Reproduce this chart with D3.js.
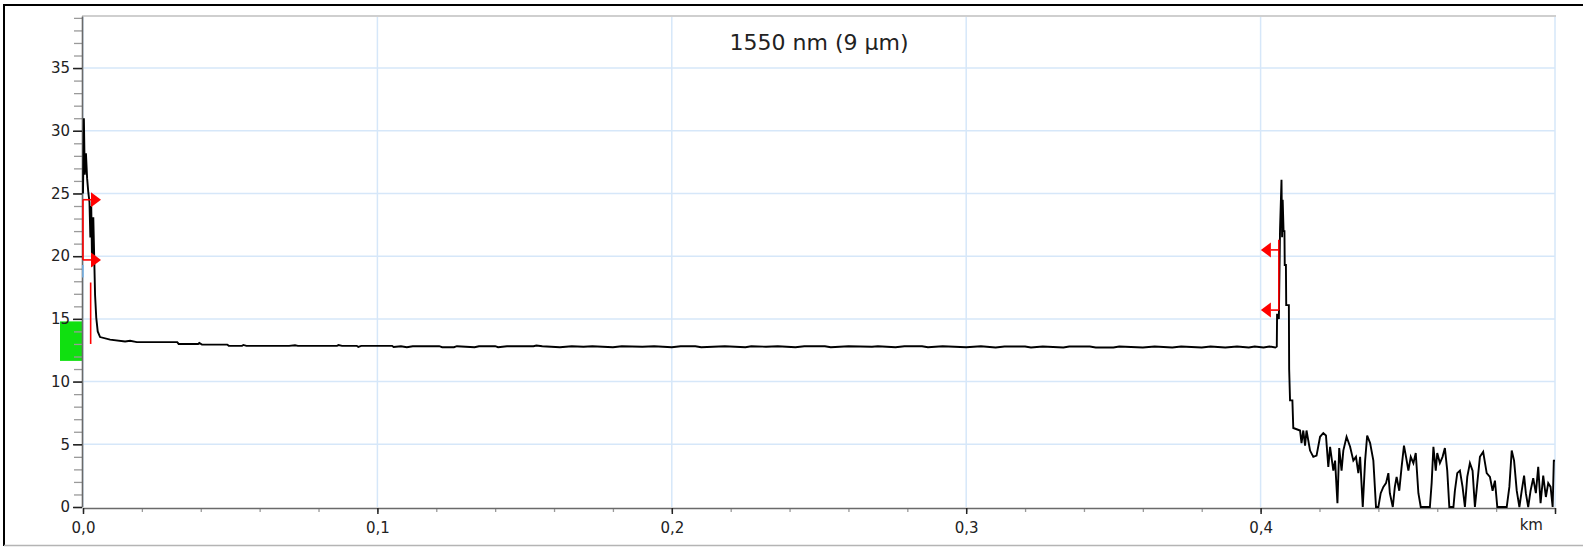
<!DOCTYPE html>
<html>
<head>
<meta charset="utf-8">
<script src="https://cdn.jsdelivr.net/npm/d3@7"></script>
<style>
body{margin:0;background:#fff;}
svg{display:block;font-family:"DejaVu Sans",sans-serif;}
</style>
</head>
<body>
<div id="chart"></div>
<script>
const title="1550 nm (9 µm)";
const xUnit="km";
const xMajor=[0,0.1,0.2,0.3,0.4,0.5];
const yMajor=[0,5,10,15,20,25,30,35];
const xDomain=[0,0.5];
const yDomain=[0,39.15];

// trace points [km, dB]
const startTrace=[
    [0.0000,25.0],[0.0003,31.0],[0.0006,26.5],[0.0010,28.2],[0.0014,26.2],
    [0.0018,25.1],[0.0022,24.3],[0.0025,21.5],[0.0028,24.0],[0.0031,19.2],
    [0.0035,23.1],[0.0038,20.0],[0.0041,16.9],[0.0045,15.1],[0.0050,14.0]
];
const flatTrace=[
    [0.0058,13.55],[0.0092,13.35],[0.0143,13.2],[0.0160,13.25],[0.0183,13.15],
    [0.0320,13.15],[0.0325,13.0],[0.0391,13.0],[0.0395,13.08],[0.0404,12.95],
    [0.0490,12.95],[0.0495,12.85],[0.0540,12.85],[0.0545,12.92],[0.0555,12.85],
    [0.0700,12.85],[0.0720,12.9],[0.0730,12.85],[0.0863,12.85],[0.0868,12.92],
    [0.0880,12.85],[0.0930,12.85],[0.0935,12.76],[0.0945,12.85],[0.1050,12.85],
    [0.1055,12.76],[0.1080,12.82],[0.1100,12.74],[0.1120,12.82],[0.1210,12.82],
    [0.1220,12.74],[0.1260,12.74],[0.1270,12.82],[0.1330,12.74],[0.1345,12.82],
    [0.1400,12.82],[0.1410,12.74],[0.1440,12.82],[0.1530,12.82],[0.1540,12.88],
    [0.1560,12.82],[0.1620,12.74],[0.1660,12.82],[0.1700,12.78],[0.1730,12.82],
    [0.1800,12.74],[0.1830,12.82],[0.1900,12.78],[0.1940,12.82],[0.2000,12.74],
    [0.2030,12.82],[0.2080,12.82],[0.2100,12.74],[0.2180,12.82],[0.2250,12.74],
    [0.2270,12.82],[0.2320,12.78],[0.2360,12.82],[0.2420,12.74],[0.2450,12.82],
    [0.2520,12.82],[0.2540,12.74],[0.2600,12.82],[0.2680,12.78],[0.2700,12.82],
    [0.2760,12.74],[0.2790,12.82],[0.2850,12.82],[0.2870,12.74],[0.2920,12.82],
    [0.3000,12.74],[0.3050,12.82],[0.3100,12.72],[0.3130,12.8],[0.3200,12.8],
    [0.3220,12.72],[0.3260,12.8],[0.3330,12.72],[0.3350,12.8],[0.3420,12.8],
    [0.3440,12.72],[0.3500,12.72],[0.3520,12.8],[0.3600,12.72],[0.3640,12.8],
    [0.3700,12.72],[0.3730,12.8],[0.3800,12.72],[0.3830,12.8],[0.3880,12.72],
    [0.3920,12.8],[0.3960,12.72],[0.3980,12.8],[0.4010,12.72],[0.4030,12.8],
    [0.4050,12.72],[0.4055,12.8]
];
const endTrace=[
    [0.4056,15.4],[0.4062,15.0],[0.4066,22.1],[0.4071,26.1],[0.4073,21.5],
    [0.4075,24.5],[0.4078,22.0],[0.4081,22.0],[0.4082,19.3],[0.4086,19.3],
    [0.4087,16.1],[0.4096,16.1],[0.4097,11.0],[0.4100,8.5],[0.4108,8.5],
    [0.4111,6.3]
];
const noiseTrace=[
    [0.4134,6.1],[0.4139,5.1],[0.4145,6.1],[0.4151,4.9],[0.4156,6.1],
    [0.4168,4.5],[0.4179,4.0],[0.4190,4.1],[0.4202,5.6],[0.4213,5.9],
    [0.4222,5.7],[0.4230,3.2],[0.4236,4.8],[0.4247,2.9],[0.4253,3.7],
    [0.4261,0.3],[0.4267,4.7],[0.4275,2.9],[0.4281,4.5],[0.4292,5.6],
    [0.4304,4.8],[0.4315,3.7],[0.4324,4.0],[0.4332,2.7],[0.4338,4.0],
    [0.4347,0],[0.4355,3.7],[0.4362,5.7],[0.4372,5.1],[0.4383,3.7],
    [0.4392,0],[0.4400,0],[0.4408,1.1],[0.4417,1.6],[0.4426,1.9],
    [0.4434,2.7],[0.4439,1.1],[0.4449,0],[0.4456,1.6],[0.4462,2.4],
    [0.4471,1.3],[0.4479,3.2],[0.4487,4.9],[0.4494,4.0],[0.4502,2.9],
    [0.4510,4.0],[0.4519,3.5],[0.4527,4.3],[0.4536,1.1],[0.4544,0],
    [0.4575,0],[0.4581,1.9],[0.4587,4.8],[0.4595,2.9],[0.4600,4.3],
    [0.4609,3.5],[0.4618,4.0],[0.4626,4.7],[0.4634,2.9],[0.4641,0],
    [0.4655,0],[0.4660,1.3],[0.4668,2.7],[0.4677,2.9],[0.4686,1.6],
    [0.4694,0],[0.4702,2.4],[0.4711,3.5],[0.4720,2.9],[0.4728,0],
    [0.4736,1.9],[0.4745,4.0],[0.4756,4.4],[0.4768,2.7],[0.4779,2.4],
    [0.4788,1.3],[0.4796,2.1],[0.4804,0],[0.4836,0],[0.4845,1.6],
    [0.4853,4.5],[0.4861,3.7],[0.4870,1.3],[0.4879,0],[0.4887,1.3],
    [0.4895,2.5],[0.4901,1.1],[0.4909,0],[0.4917,1.3],[0.4926,2.3],
    [0.4935,1.1],[0.4943,3.2],[0.4951,0.3],[0.4960,2.5],[0.4969,0.8],
    [0.4977,1.9],[0.4985,1.6],[0.4992,0],[0.4996,3.7],[0.5000,3.7]
];

// event markers
const markerA={km:0,levels:[24.5,19.7],line:[24.5,19.7],dir:1};
const markerB={km:0.4062,levels:[20.5,15.7],line:[21.3,15.7],dir:-1};
const cursorLine={km:0.0026,from:17.9,to:13.0};
const blueMark={km:0,from:19.3,to:18.3};
const greenBand=[11.65,14.8];

const width=1583;
const height=548;

const x=d3.scaleLinear().domain(xDomain).range([83,1555]);
const y=d3.scaleLinear().domain(yDomain).range([507,16]);

const svg=d3.select("#chart").append("svg")
    .attr("width",width)
    .attr("height",height);

// outer frame
svg.append("line").attr("x1",3).attr("x2",width).attr("y1",5).attr("y2",5)
    .attr("stroke","#000").attr("stroke-width",2);
svg.append("line").attr("x1",4).attr("x2",4).attr("y1",5).attr("y2",546)
    .attr("stroke","#000").attr("stroke-width",2);
svg.append("line").attr("x1",4).attr("x2",width).attr("y1",545.5).attr("y2",545.5)
    .attr("stroke","#b4b4b4").attr("stroke-width",1.5);

// grid
const grid=svg.append("g")
    .attr("stroke","#d6e7f9")
    .attr("stroke-width",1.5);
grid.selectAll(".vg")
    .data(xMajor)
    .join("line")
    .attr("x1",d=>x(d)).attr("x2",d=>x(d))
    .attr("y1",y(yDomain[1])).attr("y2",y(0));
grid.selectAll(".hg")
    .data(yMajor.filter(d=>d>0))
    .join("line")
    .attr("x1",x(0)).attr("x2",x(xDomain[1]))
    .attr("y1",d=>y(d)).attr("y2",d=>y(d));

svg.append("line")
    .attr("x1",x(0)-1).attr("x2",x(xDomain[1])+1)
    .attr("y1",y(yDomain[1])).attr("y2",y(yDomain[1]))
    .attr("stroke","#cfcfcf").attr("stroke-width",2);

// green level band left of axis
svg.append("rect")
    .attr("x",x(0)-23)
    .attr("width",22)
    .attr("y",y(greenBand[1]))
    .attr("height",y(greenBand[0])-y(greenBand[1]))
    .attr("fill","#10e010");

// y axis
const yMinor=svg.append("g")
    .attr("transform",`translate(${x(0)-1},0)`)
    .call(d3.axisLeft(y).tickValues(d3.range(0,39.5,1)).tickSize(8).tickSizeOuter(0).tickFormat(""));
yMinor.select(".domain").remove();
yMinor.selectAll("line").attr("stroke","#9a9a9a").attr("stroke-width",1.3);

const yAxis=svg.append("g")
    .attr("transform",`translate(${x(0)-1},0)`)
    .call(d3.axisLeft(y).tickValues(yMajor).tickSize(9).tickSizeOuter(0).tickPadding(3));
yAxis.select(".domain").attr("stroke","#6a6a6a").attr("stroke-width",1.6);
yAxis.selectAll("line").attr("stroke","#222").attr("stroke-width",1.5);
yAxis.selectAll("text")
    .attr("fill","#222")
    .style("font-size","15px")
    .style("font-family","'DejaVu Sans',sans-serif");

// x axis
const xMinor=svg.append("g")
    .attr("transform",`translate(0,${y(0)+1})`)
    .call(d3.axisBottom(x).tickValues(d3.range(0,0.501,0.02)).tickSize(4).tickSizeOuter(0).tickFormat(""));
xMinor.select(".domain").remove();
xMinor.selectAll("line").attr("stroke","#9a9a9a").attr("stroke-width",1.3);

const xAxis=svg.append("g")
    .attr("transform",`translate(0,${y(0)+1})`)
    .call(d3.axisBottom(x).tickValues(xMajor).tickSize(6).tickSizeOuter(0).tickPadding(8)
        .tickFormat(d=>d<0.45?d.toFixed(1).replace(".",","):""));
xAxis.select(".domain").attr("stroke","#6a6a6a").attr("stroke-width",1.6);
xAxis.selectAll("line").attr("stroke","#222").attr("stroke-width",1.5);
xAxis.selectAll("text")
    .attr("fill","#222")
    .style("font-size","15px")
    .style("font-family","'DejaVu Sans',sans-serif");

svg.append("text")
    .attr("x",x(xDomain[1])-12)
    .attr("y",530)
    .attr("text-anchor","end")
    .attr("fill","#222")
    .style("font-size","15px")
    .text(xUnit);

// title
svg.append("text")
    .attr("x",(x(0)+x(xDomain[1]))/2)
    .attr("y",50)
    .attr("text-anchor","middle")
    .attr("fill","#222")
    .style("font-size","22px")
    .text(title);

// trace
const trace=[].concat(startTrace,flatTrace,endTrace,noiseTrace);
const line=d3.line()
    .x(d=>x(d[0]))
    .y(d=>y(d[1]));

svg.append("path")
    .datum(trace)
    .attr("fill","none")
    .attr("stroke","#000")
    .attr("stroke-width",1.9)
    .attr("stroke-linejoin","miter")
    .attr("d",line);

// markers
const red="#ff0000";
svg.append("line")
    .attr("x1",x(cursorLine.km)).attr("x2",x(cursorLine.km))
    .attr("y1",y(cursorLine.from)).attr("y2",y(cursorLine.to))
    .attr("stroke",red).attr("stroke-width",1.6);

svg.append("line")
    .attr("x1",x(blueMark.km)).attr("x2",x(blueMark.km))
    .attr("y1",y(blueMark.from)).attr("y2",y(blueMark.to))
    .attr("stroke","#7ab6ea").attr("stroke-width",1.6);

function drawMarker(m){
    const mx=x(m.km);
    const g=svg.append("g");
    g.append("line")
        .attr("x1",mx).attr("x2",mx)
        .attr("y1",y(m.line[0])).attr("y2",y(m.line[1]))
        .attr("stroke",red).attr("stroke-width",1.6);
    m.levels.forEach(v=>{
        const yy=y(v);
        const base=mx+m.dir*8;
        const tip=base+m.dir*10;
        g.append("line")
            .attr("x1",mx).attr("x2",base)
            .attr("y1",yy).attr("y2",yy)
            .attr("stroke",red).attr("stroke-width",1.6);
        g.append("path")
            .attr("d",`M${base},${yy-7.5}L${tip},${yy}L${base},${yy+7.5}Z`)
            .attr("fill",red);
    });
}
drawMarker(markerA);
drawMarker(markerB);
</script>
</body>
</html>
